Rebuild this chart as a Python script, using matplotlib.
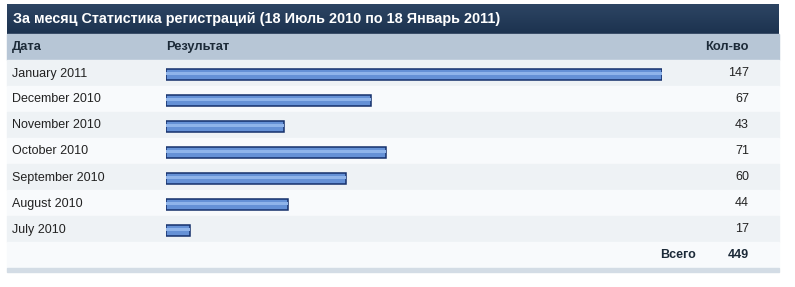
import matplotlib.pyplot as plt
import numpy as np
from matplotlib.patches import Rectangle

months = ['January 2011', 'December 2010', 'November 2010', 'October 2010',
          'September 2010', 'August 2010', 'July 2010']
counts = [147, 67, 43, 71, 60, 44, 17]
total = 449

title = 'За месяц Статистика регистраций (18 Июль 2010 по 18 Январь 2011)'
col_date = 'Дата'
col_result = 'Результат'
col_count = 'Кол-во'
total_label = 'Всего'

# bars in the original start from a non-zero base
bar_base = 10.5

W, H = 795, 287
plt.rcParams['font.family'] = ['Liberation Sans', 'DejaVu Sans']

fig = plt.figure(figsize=(W / 100, H / 100), dpi=100)
bg = fig.add_axes([0, 0, 1, 1])
bg.set_xlim(0, W)
bg.set_ylim(H, 0)
bg.axis('off')

left, right = 7, 779
row_h = 26
top_rows = 60

# title bar with vertical gradient
grad = np.linspace(0, 1, 50).reshape(-1, 1)
c_top = np.array([0x2d, 0x45, 0x63]) / 255
c_bot = np.array([0x1c, 0x32, 0x4f]) / 255
img = c_top + (c_bot - c_top) * grad[:, :, None]
bg.imshow(img, extent=(left, right, 34, 4), aspect='auto', zorder=1)
bg.set_xlim(0, W)
bg.set_ylim(H, 0)
bg.text(13, 19.5, title, color='white', fontsize=10.4, fontweight='bold',
        va='center', ha='left', zorder=3)

# header row
bg.add_patch(Rectangle((left, 34), right - left, 26, color='#b7c6d6', zorder=1))
bg.text(12, 47, col_date, fontsize=9.3, fontweight='bold', color='#1c2a38', va='center')
bg.text(166, 47, col_result, fontsize=9.3, fontweight='bold', color='#1c2a38', va='center')
bg.text(749, 47, col_count, fontsize=9.3, fontweight='bold', color='#1c2a38',
        va='center', ha='right')

# data rows
for i, (m, c) in enumerate(zip(months, counts)):
    y0 = top_rows + i * row_h
    col = '#eef2f5' if i % 2 == 0 else '#f8fafc'
    bg.add_patch(Rectangle((left, y0), right - left, row_h, color=col, zorder=1))
    bg.text(12, y0 + 13.5, m, fontsize=9, color='#222222', va='center')
    bg.text(749, y0 + 13.5, str(c), fontsize=9, color='#222222', va='center', ha='right')

# total row and bottom strip
y_tot = top_rows + len(months) * row_h
bg.add_patch(Rectangle((left, y_tot), right - left, row_h, color='#f8fafc', zorder=1))
bg.text(696, y_tot + 13.5, total_label, fontsize=9, fontweight='bold', color='#1c2a38',
        va='center', ha='right')
bg.text(749, y_tot + 13.5, str(total), fontsize=9, fontweight='bold', color='#1c2a38',
        va='center', ha='right')
bg.add_patch(Rectangle((left, y_tot + row_h), right - left, 4, color='#d3dce5', zorder=1))

# bar axes laid over the data rows
bx0, bx1 = 166, 662
ax = fig.add_axes([bx0 / W, 1 - (y_tot + 1.3) / H, (bx1 - bx0) / W, (y_tot - top_rows) / H])
ax.set_xlim(bar_base, max(counts))
ax.set_ylim(len(months) - 0.5, -0.5)
ax.axis('off')
ax.patch.set_alpha(0)

y = np.arange(len(months))
vals = np.array(counts) - bar_base
ax.barh(y, vals, left=bar_base, height=0.44, color='#6591d6',
        edgecolor='#15306b', linewidth=1.1, zorder=2)
ax.barh(y - 0.03, vals, left=bar_base, height=0.08, color='#8fb4ea',
        linewidth=0, zorder=3)

fig.savefig('out.png', dpi=100)
